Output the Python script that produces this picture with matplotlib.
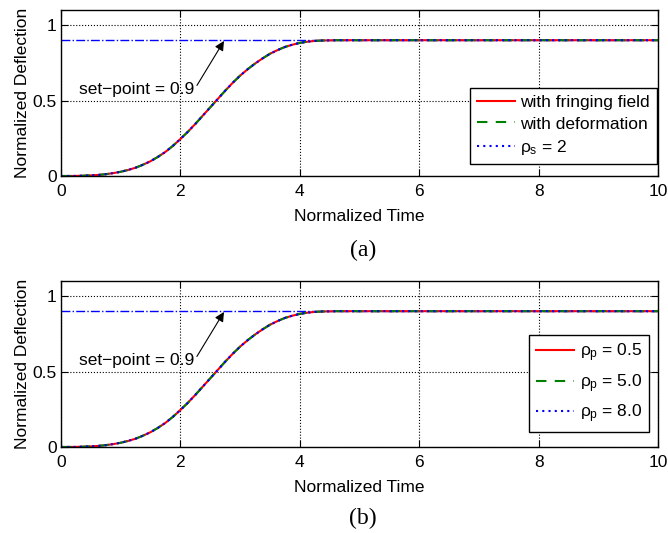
import matplotlib
matplotlib.use("Agg")
import matplotlib.pyplot as plt

plt.rcParams['font.family'] = ['Liberation Sans', 'DejaVu Sans']
plt.rcParams['mathtext.fontset'] = 'custom'
plt.rcParams['mathtext.rm'] = 'Liberation Sans'
plt.rcParams['mathtext.it'] = 'Liberation Sans'

# Data
time = [0.0, 0.125, 0.25, 0.375, 0.5, 0.625, 0.75, 0.875, 1.0, 1.125, 1.25,
        1.375, 1.5, 1.625, 1.75, 1.875, 2.0, 2.125, 2.25, 2.375, 2.5, 2.625,
        2.75, 2.875, 3.0, 3.125, 3.25, 3.375, 3.5, 3.625, 3.75, 3.875, 4.0,
        4.125, 4.25, 4.375, 4.5, 4.625, 4.75, 5.0, 6.0, 8.0, 10.0]
deflection = [0.0, 0.0001, 0.0005, 0.002, 0.004, 0.007, 0.012, 0.019, 0.028,
              0.04, 0.055, 0.075, 0.098, 0.127, 0.16, 0.2, 0.245, 0.293, 0.345,
              0.4, 0.455, 0.51, 0.565, 0.617, 0.665, 0.707, 0.745, 0.779, 0.81,
              0.834, 0.855, 0.87, 0.882, 0.89, 0.895, 0.898, 0.899, 0.9, 0.9,
              0.9, 0.9, 0.9, 0.9]
setpoint = 0.9
legend_a = ['with fringing field', 'with deformation', r'$\rho_\mathrm{s}$ = 2']
legend_b = [r'$\rho_\mathrm{p}$ = 0.5', r'$\rho_\mathrm{p}$ = 5.0', r'$\rho_\mathrm{p}$ = 8.0']
xticks = [0, 2, 4, 6, 8, 10]
yticks = [0, 0.5, 1]
ytick_labels = ['0', '0.5', '1']

FS = 12.5
fig = plt.figure(figsize=(6.68, 5.33), dpi=100)
positions = [[0.0913, 0.6698, 0.8937, 0.3114], [0.0913, 0.1614, 0.8937, 0.3114]]
panel_labels = ['(a)', '(b)']
panel_y = [0.531, 0.028]
legends = [legend_a, legend_b]
legend_anchor = [(0.998, 0.072), (0.985, 0.09)]
legend_spacing = [0.38, 0.45]

for i in range(2):
    ax = fig.add_axes(positions[i])
    ax.plot([0, 10], [setpoint, setpoint], color='blue', linestyle='-.', linewidth=1.0)
    l1, = ax.plot(time, deflection, color='red', linestyle='-', linewidth=1.5)
    l2, = ax.plot(time, deflection, color='green', linestyle=(0, (5, 4)), linewidth=1.5)
    l3, = ax.plot(time, deflection, color='blue', linestyle=(0, (1, 2)), linewidth=1.5)
    ax.set_xlim(0, 10)
    ax.set_ylim(0, 1.1)
    ax.set_xticks(xticks)
    ax.set_yticks(yticks)
    ax.set_yticklabels(ytick_labels)
    ax.grid(True, color='black', linestyle=':', linewidth=0.8)
    ax.tick_params(direction='in', top=True, right=True, labelsize=FS, length=5)
    ax.tick_params(axis='x', pad=6)
    ax.tick_params(axis='y', pad=3)
    for s in ax.spines.values():
        s.set_linewidth(1.0)
    ax.set_xlabel('Normalized Time', fontsize=FS, labelpad=7)
    ax.set_ylabel('Normalized Deflection', fontsize=FS, labelpad=2)
    ax.annotate('set\u2212point = 0.9', xy=(2.73, 0.895), xytext=(0.3, 0.57),
                fontsize=FS, va='center', ha='left',
                arrowprops=dict(arrowstyle='-|>', color='black', lw=0.8,
                                shrinkA=0, shrinkB=0, mutation_scale=14,
                                relpos=(1.0, 0.5)))
    leg = ax.legend([l1, l2, l3], legends[i], loc='lower right',
                    bbox_to_anchor=legend_anchor[i], fontsize=FS,
                    fancybox=False, edgecolor='black', framealpha=1,
                    handlelength=2.2, handletextpad=0.3, borderpad=0.4,
                    labelspacing=legend_spacing[i], borderaxespad=0.0)
    leg.get_frame().set_linewidth(1.0)
    fig.text(0.543, panel_y[i], panel_labels[i], fontsize=17,
             family='Liberation Serif', ha='center', va='center')

fig.savefig('out.png', dpi=100)
